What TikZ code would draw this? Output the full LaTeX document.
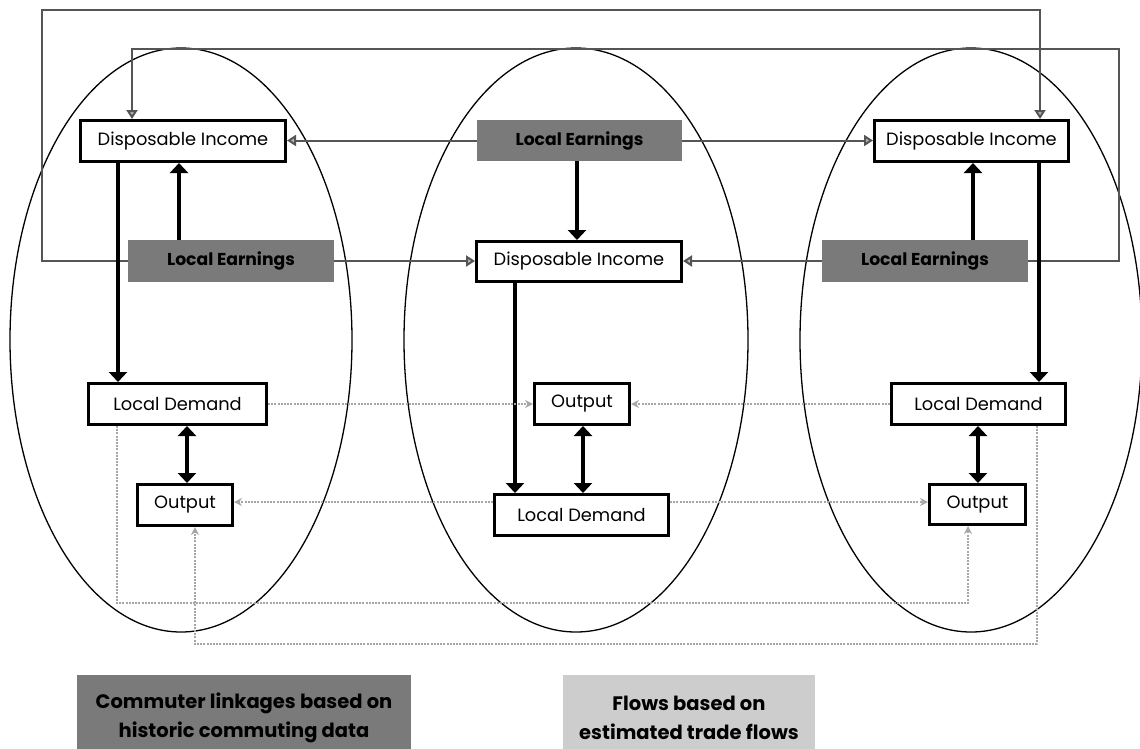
\documentclass[tikz,border=0pt]{standalone}
\usepackage{fontspec}
\setmainfont{Poppins}
\usetikzlibrary{arrows.meta,calc}

\definecolor{commgray}{HTML}{555555}
\definecolor{tradegray}{HTML}{A6A6A6}
\definecolor{earnfill}{HTML}{7A7A7A}
\definecolor{legendlight}{HTML}{CDCDCD}

\tikzset{
  zone/.style={draw=black, line width=1.3pt},
  box/.style={draw=black, line width=3pt, fill=white, inner sep=0pt,
    font=\fontsize{17.8}{20}\selectfont},
  earn/.style={fill=earnfill, inner sep=0pt, minimum width=206pt, minimum height=42pt,
    font=\bfseries\fontsize{17.2}{20}\selectfont},
  legendbox/.style={inner sep=0pt, align=center, minimum width=334pt, minimum height=85pt,
    font=\bfseries\fontsize{19.5}{29}\selectfont},
  comm/.style={draw=commgray, line width=2pt,
    -{Triangle[length=9pt, width=11pt, fill=gray!55]}},
  trade/.style={draw=tradegray, line width=1.4pt, dash pattern=on 2pt off 1.2pt,
    -{Stealth[length=8pt, width=8pt, open]}},
  blk/.style={line width=3.8pt, -{Triangle[length=10pt, width=18pt]}},
  blkboth/.style={line width=3.8pt, {Triangle[length=10pt, width=18pt]}-{Triangle[length=10pt, width=18pt]}}
}

\begin{document}
\begin{tikzpicture}[x=1pt, y=-1pt]
\useasboundingbox (0,0) rectangle (1140,748);

% three regions
\draw[zone] (181,340) ellipse [x radius=171pt, y radius=292pt];
\draw[zone] (576,340) ellipse [x radius=172pt, y radius=292pt];
\draw[zone] (971,340) ellipse [x radius=171pt, y radius=292pt];

% left region
\node[box, minimum width=205pt, minimum height=41pt] (lDI) at (183,141) {Disposable Income};
\node[earn] (lLE) at (231,261) {Local Earnings};
\node[box, minimum width=178pt, minimum height=41pt] (lLD) at (177.5,404) {Local Demand};
\node[box, minimum width=95pt, minimum height=41pt] (lOut) at (185,505) {Output};

% middle region
\node[earn, minimum height=41pt, minimum width=205pt] (mLE) at (579.5,140.5) {Local Earnings};
\node[box, minimum width=205pt, minimum height=40pt] (mDI) at (579,261.5) {Disposable Income};
\node[box, minimum width=95pt, minimum height=41pt] (mOut) at (582,404) {Output};
\node[box, minimum width=174pt, minimum height=41pt] (mLD) at (581.5,515) {Local Demand};

% right region
\node[box, minimum width=194pt, minimum height=41pt] (rDI) at (971.5,141) {Disposable Income};
\node[earn] (rLE) at (925,261) {Local Earnings};
\node[box, minimum width=174pt, minimum height=41pt] (rLD) at (978.5,404) {Local Demand};
\node[box, minimum width=96pt, minimum height=40pt] (rOut) at (977.5,504.5) {Output};

% legend (boxes run past the lower edge)
\node[legendbox, fill=earnfill] (legC) at (244,717.5) {Commuter linkages based on\\historic commuting data};
\node[legendbox, fill=legendlight, minimum width=252pt] (legT) at (689,717.5) {Flows based on\\estimated trade flows};

% helper coordinates for routing
\coordinate (oL) at (42,10);
\coordinate (oR) at (1040,10);
\coordinate (iL) at (132,49);
\coordinate (iR) at (1119,49);
\coordinate (xl) at (118,0);
\coordinate (xm) at (515,0);
\coordinate (xr) at (1039,0);
\coordinate (ka) at (179,0);
\coordinate (kb) at (187,0);
\coordinate (kc) at (577,0);
\coordinate (kd) at (583,0);
\coordinate (ke) at (973,0);
\coordinate (kf) at (978,0);
\coordinate (ty) at (0,502);
\coordinate (bA) at (117,603);
\coordinate (bAend) at (968,603);
\coordinate (bB) at (1037,644);
\coordinate (bBend) at (195,644);

% commuter linkages
\draw[comm] (lLE.west) -| (oL) -| (oR |- rDI.north);
\draw[comm] (rLE.east) -| (iR) -| (iL |- lDI.north);
\draw[comm] (mLE.west) -- (mLE.west -| lDI.east);
\draw[comm] (mLE.east) -- (mLE.east -| rDI.west);
\draw[comm] (lLE.east) -- (lLE.east -| mDI.west);
\draw[comm] (rLE.west) -- (rLE.west -| mDI.east);

% flows within each region
\draw[blk] (ka |- lLE.north) -- (ka |- lDI.south);
\draw[blk] (xl |- lDI.south) -- (xl |- lLD.north);
\draw[blkboth] (kb |- lLD.south) -- (kb |- lOut.north);
\draw[blk] (kc |- mLE.south) -- (kc |- mDI.north);
\draw[blk] (xm |- mDI.south) -- (xm |- mLD.north);
\draw[blkboth] (kd |- mOut.south) -- (kd |- mLD.north);
\draw[blk] (ke |- rLE.north) -- (ke |- rDI.south);
\draw[blk] (xr |- rDI.south) -- (xr |- rLD.north);
\draw[blkboth] (kf |- rLD.south) -- (kf |- rOut.north);

% trade flows
\draw[trade] (lLD.east) -- (mOut.west);
\draw[trade] (rLD.west) -- (mOut.east);
\draw[trade] (mLD.west |- ty) -- (lOut.east |- ty);
\draw[trade] (mLD.east |- ty) -- (rOut.west |- ty);
\draw[trade] (bA |- lLD.south) -- (bA) -| (bAend |- rOut.south);
\draw[trade] (bB |- rLD.south) -- (bB) -| (bBend |- lOut.south);
\end{tikzpicture}
\end{document}
